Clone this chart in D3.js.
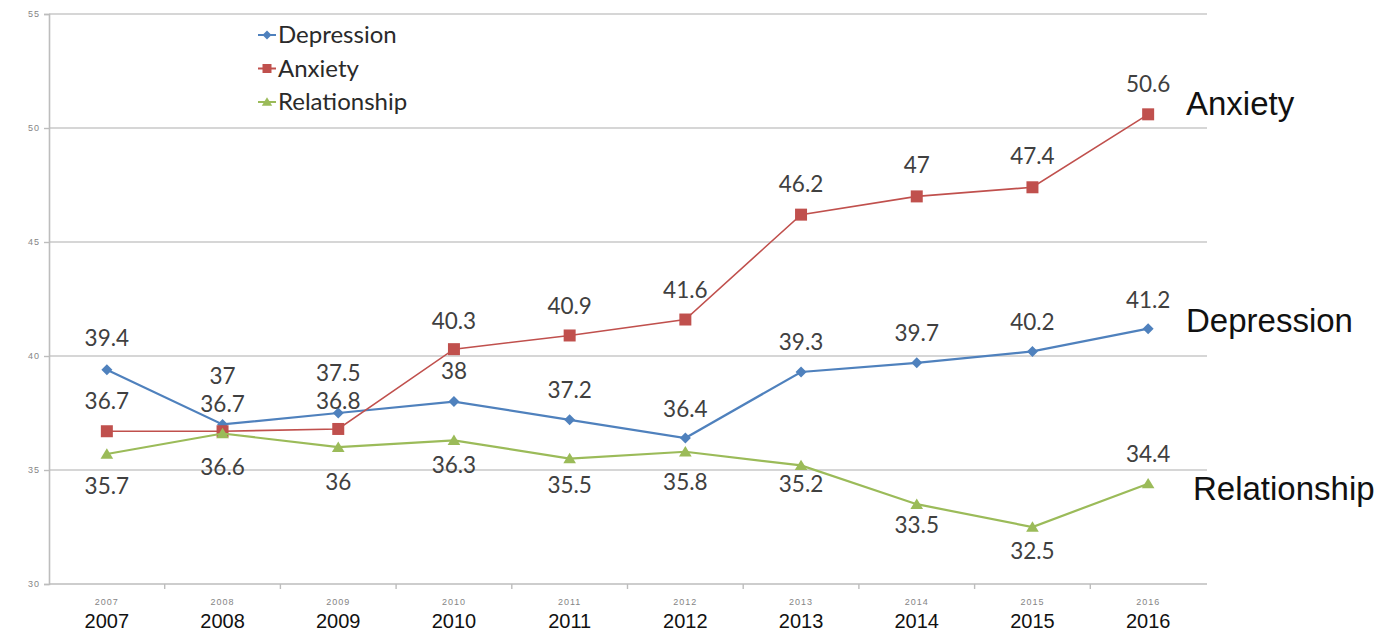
<!DOCTYPE html>
<html>
<head>
<meta charset="utf-8">
<script src="https://cdn.jsdelivr.net/npm/d3@7"></script>
<style>
  body { margin: 0; background: #fff; }
  svg { display: block; }
</style>
</head>
<body>
<svg id="chart" width="1375" height="633"></svg>
<script>
// ---- data ----
const years = ['2007', '2008', '2009', '2010', '2011', '2012', '2013', '2014', '2015', '2016'];
const depression = [39.4, 37, 37.5, 38, 37.2, 36.4, 39.3, 39.7, 40.2, 41.2];
const anxiety = [36.7, 36.7, 36.8, 40.3, 40.9, 41.6, 46.2, 47, 47.4, 50.6];
const relationship = [35.7, 36.6, 36, 36.3, 35.5, 35.8, 35.2, 33.5, 32.5, 34.4];
const yTicks = [30, 35, 40, 45, 50, 55];
const seriesNames = ['Depression', 'Anxiety', 'Relationship'];

// ---- styling / layout ----
const colors = { Depression: '#4f81bd', Anxiety: '#c0504d', Relationship: '#9bbb59' };
const lineWidths = { Depression: 2.2, Anxiety: 1.6, Relationship: 2.2 };
// vertical offset of each value label's centre from its point
const labelOffsets = {
  Depression: [-32, -48, -40, -30, -30, -29, -30, -30, -29, -29],
  Anxiety: [-30, -27, -28, -28, -29, -29, -31, -31, -31, -30],
  Relationship: [32, 34, 35, 25, 27, 30, 19, 21, 24, -30]
};

const series = [
  { name: 'Depression', values: depression },
  { name: 'Anxiety', values: anxiety },
  { name: 'Relationship', values: relationship }
];

const svg = d3.select('#chart');
const plotLeft = 49, plotRight = 1206, plotTop = 14, plotBottom = 584;

const x = d3.scaleBand().domain(years).range([plotLeft, plotRight]);
const y = d3.scaleLinear().domain([30, 55]).range([plotBottom, plotTop]);

const labelFont = 'Lato, "Open Sans", sans-serif';
const tinyFont = '"Liberation Sans", Arial, sans-serif';

// gridlines
svg.append('g').selectAll('line')
  .data(yTicks.filter(t => t > 30))
  .join('line')
  .attr('x1', plotLeft).attr('x2', plotRight + 1)
  .attr('y1', d => y(d)).attr('y2', d => y(d))
  .attr('stroke', '#d6d6d6').attr('stroke-width', 2);

// y axis
const yAxis = svg.append('g').attr('transform', `translate(${plotLeft},0)`)
  .call(d3.axisLeft(y).tickValues(yTicks).tickSize(5).tickPadding(4));
yAxis.select('.domain').attr('stroke', '#bdbdbd').attr('stroke-width', 1.6);
yAxis.selectAll('.tick line').attr('stroke', '#bdbdbd').attr('stroke-width', 1.4);
yAxis.selectAll('.tick text')
  .attr('fill', '#858585').attr('font-family', tinyFont)
  .attr('font-size', 9).attr('letter-spacing', 1);

// x axis line and boundary ticks
const xg = svg.append('g');
xg.append('line')
  .attr('x1', plotLeft).attr('x2', plotRight + 1)
  .attr('y1', plotBottom).attr('y2', plotBottom)
  .attr('stroke', '#bdbdbd').attr('stroke-width', 1.6);
xg.selectAll('line.bound')
  .data(years.slice(1))
  .join('line').attr('class', 'bound')
  .attr('x1', d => x(d)).attr('x2', d => x(d))
  .attr('y1', plotBottom).attr('y2', plotBottom + 5)
  .attr('stroke', '#bdbdbd').attr('stroke-width', 1.4);

// small category labels under the axis
xg.selectAll('text.small')
  .data(years)
  .join('text').attr('class', 'small')
  .attr('x', d => x(d) + x.bandwidth() / 2)
  .attr('y', 605)
  .attr('text-anchor', 'middle')
  .attr('font-family', tinyFont).attr('font-size', 9)
  .attr('letter-spacing', 1)
  .attr('fill', '#858585')
  .text(d => d);

// large year captions
xg.selectAll('text.big')
  .data(years)
  .join('text').attr('class', 'big')
  .attr('x', d => x(d) + x.bandwidth() / 2)
  .attr('y', 628)
  .attr('text-anchor', 'middle')
  .attr('font-family', tinyFont).attr('font-size', 20)
  .attr('fill', '#111')
  .text(d => d);

// marker shapes
function markerPath(name, s) {
  if (name === 'Depression') {
    return `M0,${-s}L${s},0L0,${s}L${-s},0Z`;
  }
  if (name === 'Anxiety') {
    return `M${-s},${-s}H${s}V${s}H${-s}Z`;
  }
  return `M0,${-s * 1.05}L${s * 1.15},${s * 0.85}H${-s * 1.15}Z`;
}
const markerSize = { Depression: 5.5, Anxiety: 6, Relationship: 5.5 };

const line = d3.line()
  .x((d, i) => x(years[i]) + x.bandwidth() / 2)
  .y(d => y(d));

const plot = svg.append('g');
series.forEach(s => {
  const g = plot.append('g');
  g.append('path')
    .datum(s.values)
    .attr('d', line)
    .attr('fill', 'none')
    .attr('stroke', colors[s.name])
    .attr('stroke-width', lineWidths[s.name]);
  g.selectAll('path.marker')
    .data(s.values)
    .join('path').attr('class', 'marker')
    .attr('transform', (d, i) => `translate(${x(years[i]) + x.bandwidth() / 2},${y(d)})`)
    .attr('d', markerPath(s.name, markerSize[s.name]))
    .attr('fill', colors[s.name]);
});

// value labels
series.forEach(s => {
  plot.append('g').selectAll('text')
    .data(s.values)
    .join('text')
    .attr('x', (d, i) => x(years[i]) + x.bandwidth() / 2)
    .attr('y', (d, i) => y(d) + labelOffsets[s.name][i])
    .attr('dy', '0.35em')
    .attr('text-anchor', 'middle')
    .attr('font-family', labelFont)
    .attr('font-size', 22.5)
    .attr('fill', '#404040')
    .text(d => d);
});

// legend
const legend = svg.append('g').attr('transform', 'translate(258,35)');
seriesNames.forEach((name, i) => {
  const item = legend.append('g').attr('transform', `translate(0,${i * 33.5})`);
  item.append('line')
    .attr('x1', 0).attr('x2', 18).attr('y1', 0).attr('y2', 0)
    .attr('stroke', colors[name]).attr('stroke-width', 2);
  item.append('path')
    .attr('transform', 'translate(9,0)')
    .attr('d', markerPath(name, 4.5))
    .attr('fill', colors[name]);
  item.append('text')
    .attr('x', 20).attr('y', 0).attr('dy', '0.35em')
    .attr('font-family', labelFont).attr('font-size', 24)
    .attr('fill', '#2a2a2a')
    .text(name);
});

// series captions at the right edge
const captions = [
  { name: 'Anxiety', x: 1186, y: 115 },
  { name: 'Depression', x: 1186, y: 332 },
  { name: 'Relationship', x: 1193, y: 500 }
];
svg.append('g').selectAll('text')
  .data(captions)
  .join('text')
  .attr('x', d => d.x).attr('y', d => d.y)
  .attr('font-family', tinyFont).attr('font-size', 33)
  .attr('fill', '#111')
  .text(d => d.name);
</script>
</body>
</html>
